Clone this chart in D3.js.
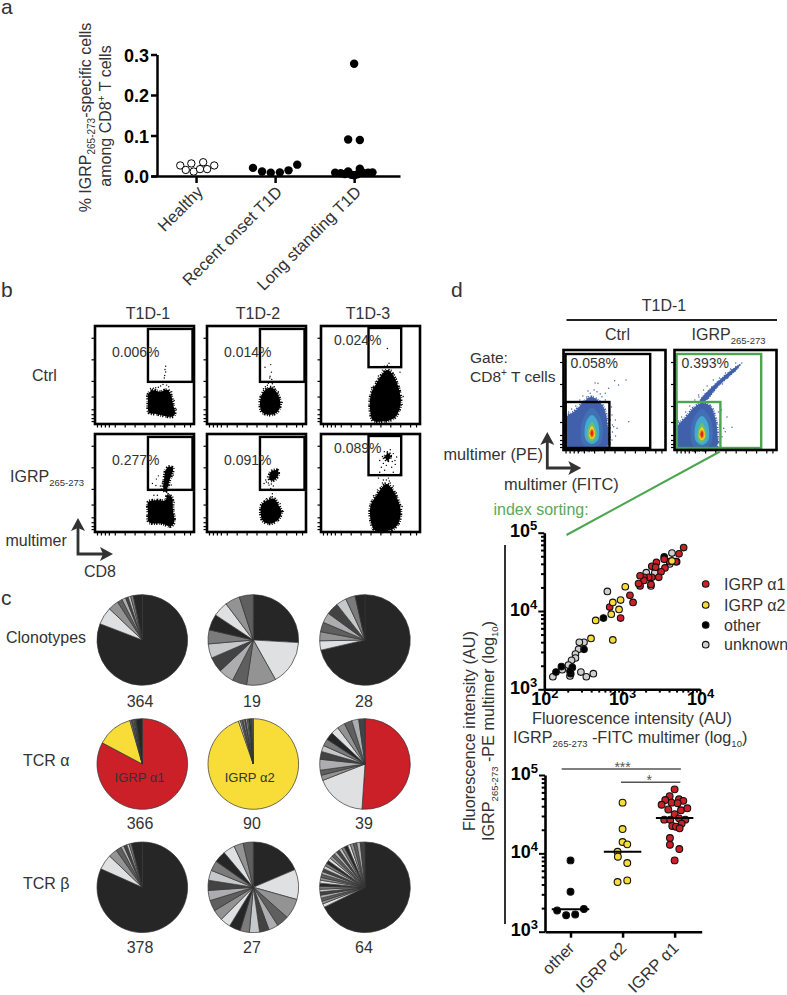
<!DOCTYPE html>
<html>
<head>
<meta charset="utf-8">
<script src="https://cdn.jsdelivr.net/npm/d3@7"></script>
<style>
  body { margin: 0; background: #fff; }
  text { font-family: "Liberation Sans", Arial, sans-serif; fill: #333; }
</style>
</head>
<body>
<svg id="fig" width="787" height="995"></svg>
<script>
// ---- panel a: % of IGRP-specific cells, [position within group, value]
const groupNames = ['Healthy', 'Recent onset T1D', 'Long standing T1D'];
const healthy = [[-0.2, 0.026], [-0.06, 0.031], [0.09, 0.034], [0.23, 0.026], [-0.13, 0.015], [-0.03, 0.011], [0.05, 0.017], [0.14, 0.017]];
const recentOnset = [[-0.28, 0.02], [-0.165, 0.011], [-0.055, 0.008], [0.06, 0.009], [0.17, 0.014], [0.28, 0.028]];
const longStanding = [[0, 0.277], [-0.076, 0.09], [0.072, 0.089], [-0.24, 0.008], [-0.17, 0.007], [-0.12, 0.005], [-0.076, 0.011], [-0.035, 0.003], [0, 0.002], [0.04, 0.004], [0.072, 0.018], [0.114, 0.008], [0.177, 0.008], [0.232, 0.009]];
const aTicks = [0, 0.1, 0.2, 0.3];

// ---- panel b: flow plots, outlines and single events in % of the plot
const colTitles = ['T1D-1', 'T1D-2', 'T1D-3'];
const ctrlPct = ['0.006%', '0.014%', '0.024%'];
const igrpPct = ['0.277%', '0.091%', '0.089%'];
const ctrl1Blob = [[53.9, 30.7], [57.9, 34.4], [66.3, 33], [73, 35], [77, 29], [78.8, 20.2], [80.8, 11.8], [78.8, 7.7], [71.4, 8], [63, 10], [54.5, 11.8], [53.5, 21.9]];
const ctrl1Dots = [[71.4, 58.9], [70.7, 55.6], [71.4, 53], [70.4, 49.5], [70, 47], [68.7, 40.4], [66.3, 38.7], [72.4, 39.7], [61.3, 37], [56, 36.4], [64, 37.5], [59, 36.5], [74.5, 38], [77.5, 33], [80, 24], [82, 15], [52.5, 29]];
const ctrl2Blob = [[54.9, 28.6], [57.6, 33.4], [64.4, 37.4], [69.5, 33.7], [72.9, 27], [74.2, 20.2], [71.2, 12.5], [64.4, 9.4], [55.9, 11.8], [53.5, 20]];
const ctrl2Dots = [[64.4, 60.6], [58.6, 57.9], [65.1, 52.9], [63.7, 48.8], [63.4, 47], [65.4, 45.5], [62, 41.5], [66, 41], [59, 38], [68, 38], [61, 39.5], [72, 33], [76, 22], [57, 36]];
const ctrl3Blob = [[50.2, 29.3], [57, 43], [62, 51], [67, 55], [72, 51], [77, 41], [80.5, 27], [79.8, 17], [74.7, 6.7], [64.6, 2.7], [52.9, 3.4], [50.2, 10]];
const ctrl3Dots = [[67, 77], [68.7, 62], [79.8, 52.9], [51, 37], [64, 59], [70, 58], [73, 52], [60, 50], [83, 28], [62, 55], [65, 58], [67, 60], [71, 55], [74, 50], [76, 46], [79, 38], [55, 43], [53, 38], [58, 49], [82, 20]];
const igrp1Blob = [[53.9, 30.7], [63, 32.4], [71.4, 32.4], [73, 37.5], [77.4, 35.8], [78.8, 22], [80, 10], [76.4, 5.8], [68, 8.5], [54.5, 10], [53.5, 20.5]];
const igrp1Streak = [[71.4, 63], [74.7, 66.5], [78.8, 65], [75.4, 53], [73, 44.4], [71.4, 41], [69, 44.4], [69.7, 53]];
const igrp1Dots = [[64, 57.3], [62, 54], [58, 49.5], [61.5, 47.5], [59.5, 37.5], [63, 37.5], [66, 47], [74, 39], [73, 36], [75, 38], [72, 41], [76, 43], [68, 50], [67, 44], [77, 48], [79, 58], [80, 30]];
const igrp2Blob = [[54.9, 27.3], [61, 32.4], [67.8, 34], [72.2, 27.3], [75.3, 20.5], [71.2, 12], [62.7, 8.5], [56, 12]];
const igrp2Streak = [[64.4, 61.4], [71.2, 63], [72, 58], [67.8, 53], [63.4, 53]];
const igrp2Dots = [[59.3, 53], [57.6, 49.5], [62.7, 47.8], [64.4, 44.4], [65.4, 42.7], [66, 39], [64.4, 35.8], [61, 56.3], [60, 51], [62, 50], [65, 49], [67, 47], [60, 34], [58, 31], [74, 29], [77, 21], [66, 36]];
const igrp3Blob = [[50.2, 27.3], [56.2, 37.5], [62, 46], [66.3, 49], [71.4, 44.4], [76.4, 35.8], [80.5, 22], [78, 8.5], [69.7, 1.7], [54.5, 1.7], [50.2, 12]];
const igrp3Cluster = [[65, 78], [69, 80], [70, 75.5], [66.5, 73]];
const igrp3Dots = [[73, 80], [74.7, 73], [76.4, 76.5], [59.3, 73], [61, 66], [66, 68], [71.4, 66], [59.3, 61], [64.3, 63], [73, 61], [80, 60], [66.3, 58], [63, 53], [68, 55], [64.6, 50], [58, 55], [62, 77], [70, 84], [75, 69], [68, 72], [63, 70], [62, 50], [70, 50], [73, 47], [60, 45], [66, 53], [69, 52], [76, 40], [53, 37], [57, 43], [82, 26], [67, 82], [64, 82], [71, 78], [72, 72], [63, 75]];
const flowTicksX = [2, 6, 10, 14, 20, 30, 40, 50, 60, 70, 80, 90, 96];
const flowTicksY = [3, 6, 10, 15, 28, 44, 66, 88];

// ---- panel c: clonotype pies, slice sizes in degrees clockwise from 12 o'clock
const rowNames = ['Clonotypes', 'TCR α', 'TCR β'];
const pieCounts = [[364, 19, 28], [366, 90, 39], [378, 27, 64]];
const clono1 = [291, 22.5, 13.5, 6.4, 5, 3.4, 3.2, 3.5, 11.5];
const clono2 = [93.3, 57.4, 37.9, 18.7, 19.7, 19.7, 18.3, 18, 20.5, 19.5, 19, 18];
const clono3 = [257, 12, 11.6, 12.4, 13, 15.7, 13.3, 12.3, 12.7];
const alpha1 = [298.7, 46.3, 2, 1.5, 1.5, 1, 1, 1, 8];
const alpha2 = [340.8, 2.5, 2, 1.5, 2, 1.5, 2, 2, 2, 0.8, 0.8, 2];
const alpha3 = [184, 65, 6.8, 6.5, 14, 10, 8, 9, 10, 10, 10, 10, 9, 8];
const beta1 = [294, 19.7, 11.3, 7, 4, 4, 3, 3, 14];
const beta2 = [67, 38.7, 26, 15.7, 12.3, 12.3, 13, 12, 14.5, 13.5, 14, 14, 13, 13, 13, 13, 15, 15, 12, 13];
const beta3 = [241, 4.5, 3.5, 4, 3.8, 4, 3.5, 3.6, 4, 3.8, 3.6, 4, 3.5, 3.8, 4.2, 3.5, 4, 3.8, 3.6, 4, 3.7, 4.2, 3.5, 3.8, 4.4, 3.6, 4, 4.2, 4.5, 6];
const pieSlices = [[clono1, clono2, clono3], [alpha1, alpha2, alpha3], [beta1, beta2, beta3]];

// ---- panel d: density plots, contour outlines in % of the plot
const ctrlCloud = [[3, 33], [11.5, 39], [19.7, 48], [27, 53], [34.4, 49], [40, 41], [43, 26.7], [43, 4], [4, 2.5], [3, 16.7]];
const ctrlDots = [[31, 67], [33.8, 66.7], [50.2, 69.3], [54, 65], [61.3, 70], [44.3, 61.7], [41, 56.7], [37.7, 53.3], [32.8, 58.3], [26.2, 56.7], [23, 53.3], [47.5, 35], [50.8, 30], [49.2, 23.3], [64, 28.3], [52.5, 21.7], [47.5, 10], [46, 13.3], [46, 30], [48, 18], [45, 40], [47, 43], [41, 50], [19, 54], [16, 50], [12, 44], [8, 41], [5, 38], [24, 59], [30, 60], [36, 56], [44, 47], [46, 6], [48, 25], [51, 14], [46, 22], [42, 48]];
const igrpCloud = [[3, 24], [10.5, 32], [18.7, 42], [26.9, 47], [35, 44], [40, 32], [42, 16.7], [41, 3], [3.5, 2.5], [2.5, 13]];
const igrpStreak = [[25, 49], [40, 66], [62, 84.5], [64.5, 85.5], [61, 80.5], [43, 64], [30, 49]];
const igrpDots = [[23.6, 55], [51.5, 33], [56.4, 22.7], [48.2, 21.7], [46.6, 13.3], [49.8, 18.3], [28.5, 60], [36.7, 63.3], [45, 30], [46, 40], [20, 50], [15, 44], [11, 38], [7, 33], [4, 29], [32, 64], [38, 70], [44, 72], [50, 77], [55, 81], [47, 66], [52, 72], [60, 87], [66, 87], [24, 53], [44, 25], [43, 38], [43, 8]];
const contourTeal = [[27.9, 42], [36, 33], [38.5, 20], [36, 6], [27.9, 3], [19, 6], [17, 20], [20, 33]];
const contourBlue = [[27.9, 35], [32.8, 30], [35, 20], [33.8, 10], [27.9, 6], [22, 10], [20.7, 20], [23, 30]];
const contourGreen = [[27.9, 28.3], [31, 23.3], [32.5, 16], [30.5, 10], [27.9, 8.3], [24.6, 10], [23.3, 16], [24.6, 23.3]];
const contourYellow = [[27.9, 24], [30.5, 19.3], [30.8, 14], [27.9, 10.7], [25, 14], [25.2, 19.3]];
const contourRed = [[27.9, 20.7], [29.8, 16.7], [27.9, 12.7], [25.9, 16.7]];

// ---- panel d: index sorting, [log10 FITC, log10 PE]
const sortedAlpha1 = [[3.79, 4.81], [3.73, 4.73], [3.69, 4.63], [3.61, 4.63], [3.54, 4.66], [3.55, 4.55], [3.5, 4.5], [3.44, 4.62], [3.38, 4.57], [3.43, 4.56], [3.47, 4.43], [3.38, 4.43], [3.37, 4.34], [3.34, 4.43], [3.28, 4.43], [3.28, 4.39], [3.23, 4.45], [3.23, 4.32], [3.21, 4.35], [3.1, 4.2], [3.14, 4.11], [2.98, 3.91], [2.84, 4.05]];
const sortedAlpha2 = [[3.64, 4.64], [3.04, 4.31], [2.88, 4.11], [2.98, 4.14], [2.96, 4.02], [2.86, 3.96], [2.66, 3.88], [2.88, 3.63], [2.6, 3.65]];
const sortedOther = [[3.54, 4.69], [2.76, 3.91], [2.51, 3.51], [2.36, 3.28], [2.22, 3.29], [2.15, 3.22], [2.34, 3.2], [2.33, 3.23], [3.7, 4.63]];
const sortedUnknown = [[3.64, 4.74], [3.61, 4.6], [3.31, 4.49], [3.42, 4.49], [3.37, 4.32], [2.81, 4.25], [2.51, 3.6], [2.45, 3.6], [2.44, 3.51], [2.4, 3.45], [2.4, 3.4], [2.35, 3.37], [2.31, 3.31], [2.23, 3.25], [2.11, 3.16], [2.33, 3.17], [2.47, 3.22], [2.54, 3.16], [2.63, 3.2]];
const legendNames = ['IGRP α1', 'IGRP α2', 'other', 'unknown'];

// ---- panel d: swarm, [position within group, log10 PE]
const swarmNames = ['other', 'IGRP α2', 'IGRP α1'];
const swarmOther = [[0, 3.91], [0, 3.51], [-0.257, 3.27], [-0.084, 3.21], [0.09, 3.22], [0.257, 3.29]];
const swarmAlpha2 = [[0, 4.647], [0, 4.31], [0, 4.145], [0.09, 4.115], [-0.096, 4.02], [-0.09, 3.957], [0.09, 3.877], [-0.096, 3.634], [0.09, 3.655]];
const swarmAlpha1 = [[0, 4.817], [-0.096, 4.73], [-0.18, 4.68], [0.084, 4.69], [0.167, 4.67], [-0.25, 4.62], [-0.058, 4.647], [0.058, 4.64], [-0.122, 4.56], [0.122, 4.55], [0.244, 4.575], [0, 4.5], [-0.2, 4.43], [-0.084, 4.43], [0.084, 4.447], [0.206, 4.43], [0.135, 4.38], [-0.045, 4.35], [0.026, 4.34], [0.096, 4.32], [-0.09, 4.196], [-0.09, 4.11], [0.09, 4.055], [0, 3.91]];
const swarmMedians = [3.285, 4.02, 4.45];

// ---- colours
const RED = '#cb2027';
const YELLOW = '#f8dc38';
const GREEN = '#4ca64f';
const FLOW_BLUE = '#4060ac';
const greyCycle = ['#262626', '#dfe0e2', '#939393', '#5f5f5f', '#adadaf', '#434343', '#c7c8ca', '#7b7b7b'];
const leadColours = [[[], [], []], [[RED, YELLOW], [YELLOW], [RED]], [[], [], []]];

const svg = d3.select('#fig');

// text with sub/superscript pieces: [string, 'sub' | 'sup' | undefined]
const richText = (sel, parts, smallSize) => {
  let shift = 0;
  parts.forEach(([str, kind]) => {
    const want = kind === 'sub' ? 4 : kind === 'sup' ? -6 : 0;
    const span = sel.append('tspan').attr('dy', want - shift).text(str);
    if (kind) span.attr('font-size', smallSize);
    shift = want;
  });
  return sel;
};

const label = (x, y, str, size, anchor) => svg.append('text')
  .attr('x', x).attr('y', y)
  .attr('font-size', size)
  .attr('text-anchor', anchor || 'start')
  .text(str);

const styleAxis = (g, width) => {
  g.selectAll('.domain').attr('stroke', '#000').attr('stroke-width', width);
  g.selectAll('.tick line').attr('stroke', '#000').attr('stroke-width', width);
};

// panel letters
label(1, 14, 'a', 21);
label(1, 297, 'b', 21);
label(1, 605, 'c', 21);
label(451, 297, 'd', 21);

// ---------------- panel a
const ax = d3.scaleLinear().domain([-0.57, 2.58]).range([151, 400]);
const ay = d3.scaleLinear().domain([0, 0.3]).range([176, 54.5]);

const ayAxis = svg.append('g').attr('transform', 'translate(157,0)')
  .call(d3.axisLeft(ay).tickValues(aTicks).tickSize(6).tickSizeOuter(0).tickFormat(d3.format('.1f')));
styleAxis(ayAxis, 2.5);
ayAxis.selectAll('text').attr('font-size', 18).attr('font-weight', 'bold').style('fill', '#000').attr('dx', 1).attr('dy', '0.38em');

const axAxis = svg.append('g').attr('transform', 'translate(0,176)')
  .call(d3.axisBottom(ax).tickValues([0, 1, 2]).tickSize(7).tickSizeOuter(0).tickFormat(''));
styleAxis(axAxis, 2.5);

groupNames.forEach((name, i) => {
  svg.append('text')
    .attr('transform', `translate(${ax(i) + 8},193) rotate(-45)`)
    .attr('text-anchor', 'end')
    .attr('font-size', 16.5)
    .text(name);
});

[healthy, recentOnset, longStanding].forEach((series, i) => {
  svg.append('g').selectAll('circle').data(series).join('circle')
    .attr('cx', d => ax(i + d[0]))
    .attr('cy', d => ay(d[1]))
    .attr('r', i === 0 ? 3.7 : 4.2)
    .attr('fill', i === 0 ? '#fff' : '#000')
    .attr('stroke', '#000')
    .attr('stroke-width', i === 0 ? 1 : 0);
});

richText(svg.append('text').attr('transform', 'translate(91,117.5) rotate(-90)').attr('text-anchor', 'middle').attr('font-size', 16),
  [['% IGRP'], ['265-273', 'sub'], ['-specific cells']], 10);
richText(svg.append('text').attr('transform', 'translate(111,116) rotate(-90)').attr('text-anchor', 'middle').attr('font-size', 16),
  [['among CD8'], ['+', 'sup'], [' T cells']], 10);

// ---------------- flow plot frame shared by panels b and d
const blobLine = d3.line().curve(d3.curveCatmullRomClosed.alpha(0.5));

const flowPlot = (left, top, width, height) => {
  const x = d3.scaleLinear().domain([0, 100]).range([left, left + width]);
  const y = d3.scaleLinear().domain([0, 100]).range([top + height, top]);
  const g = svg.append('g');
  blobLine.x(d => x(d[0])).y(d => y(d[1]));
  // grain: an uneven dash on a wide outline roughens the edge of the cloud
  const blob = (points, fill, grain) => {
    const path = g.append('path').attr('d', blobLine(points)).attr('fill', fill);
    if (grain) {
      path.attr('stroke', fill).attr('stroke-width', grain)
        .attr('stroke-dasharray', '0.9 1.3 1.6 0.8 0.6 1.9 1.2 1.1');
    }
    return path;
  };
  const dots = (points, fill) => {
    g.append('g').selectAll('circle').data(points).join('circle')
      .attr('cx', d => x(d[0])).attr('cy', d => y(d[1])).attr('r', 0.7).attr('fill', fill);
  };
  const gate = (x0, x1, y0, y1, colour) => {
    g.append('rect')
      .attr('x', x(x0)).attr('y', y(y1))
      .attr('width', x(x1) - x(x0)).attr('height', y(y0) - y(y1))
      .attr('fill', 'none').attr('stroke', colour).attr('stroke-width', 2.4);
  };
  const finish = () => {
    g.append('rect')
      .attr('x', left).attr('y', top)
      .attr('width', width).attr('height', height)
      .attr('fill', 'none').attr('stroke', '#000').attr('stroke-width', 2.6);
    const xa = g.append('g').attr('transform', `translate(0,${top + height})`)
      .call(d3.axisBottom(x).tickValues(flowTicksX).tickSize(3.5).tickFormat(''));
    const ya = g.append('g').attr('transform', `translate(${left},0)`)
      .call(d3.axisLeft(y).tickValues(flowTicksY).tickSize(3.5).tickFormat(''));
    [xa, ya].forEach(a => {
      a.select('.domain').remove();
      a.selectAll('.tick line').attr('stroke', '#000').attr('stroke-width', 1.2);
    });
  };
  return { blob, dots, gate, finish };
};

// ---------------- panel b
const bLefts = [95, 207, 321];
const bWidth = 99;
const bTops = [326, 434];
const bHeight = 98;
const gates = [[53.5, 98.5, 43, 97], [53.5, 98.5, 43, 97], [48, 81, 58, 98]];
const bBlobs = [
  [[ctrl1Blob], [ctrl2Blob], [ctrl3Blob]],
  [[igrp1Blob, igrp1Streak], [igrp2Blob, igrp2Streak], [igrp3Blob, igrp3Cluster]],
];
const bDots = [[ctrl1Dots, ctrl2Dots, ctrl3Dots], [igrp1Dots, igrp2Dots, igrp3Dots]];
const pctLabels = [ctrlPct, igrpPct];
const pctX = [112, 224, 334];
const pctY = [[356.5, 356.5, 345], [464.5, 464.5, 453]];

bTops.forEach((top, r) => {
  bLefts.forEach((left, c) => {
    const plot = flowPlot(left, top, bWidth, bHeight);
    bBlobs[r][c].forEach(points => plot.blob(points, '#000', 3.2));
    plot.dots(bDots[r][c], '#000');
    plot.gate(...gates[c], '#000');
    plot.finish();
    label(pctX[c], pctY[r][c], pctLabels[r][c], 14);
  });
});

colTitles.forEach((t, i) => label([148, 258, 368][i], 319, t, 16, 'middle'));
label(32, 381, 'Ctrl', 16);
richText(label(10, 482, '', 16), [['IGRP'], ['265-273', 'sub']], 9.5);

const arrow = (x0, y0, lenUp, lenRight) => {
  const g = svg.append('g').attr('fill', '#333').attr('stroke', '#333');
  g.append('path').attr('fill', 'none').attr('stroke-width', 2.8)
    .attr('d', `M${x0},${y0 - lenUp + 6}V${y0}H${x0 + lenRight - 6}`);
  g.append('path').attr('stroke', 'none')
    .attr('d', `M${x0},${y0 - lenUp}l-7,13l7,-3l7,3z`);
  g.append('path').attr('stroke', 'none')
    .attr('d', `M${x0 + lenRight},${y0}l-13,-7l3,7l-3,7z`);
};
arrow(78, 554, 36, 35);
label(5.5, 546, 'multimer', 16);
label(84, 577, 'CD8', 16);

// ---------------- panel c
const pieX = [142.3, 253.3, 365];
const pieY = [640, 764, 887.3];
const arc = d3.arc().innerRadius(0).outerRadius(45.3);
const pieLayout = d3.pie().sort(null);

pieSlices.forEach((row, r) => {
  row.forEach((values, c) => {
    const lead = leadColours[r][c];
    const g = svg.append('g').attr('transform', `translate(${pieX[c]},${pieY[r]})`);
    g.selectAll('path').data(pieLayout(values)).join('path')
      .attr('d', arc)
      .attr('fill', d => lead[d.index] || greyCycle[d.index % greyCycle.length])
      .attr('stroke', '#333')
      .attr('stroke-width', 0.7);
    label([140, 252, 364][c], [707, 829, 953][r], pieCounts[r][c], 16, 'middle');
  });
});
label(6, 643, rowNames[0], 16);
label(23, 766, rowNames[1], 16);
label(23, 889, rowNames[2], 16);
label(139.5, 782, 'IGRP α1', 13, 'middle');
label(249.7, 782, 'IGRP α2', 13, 'middle');

// ---------------- panel d, density plots
const densityPlot = (left, cloud, extraClouds, scatter, gateColour, pct, shift) => {
  const plot = flowPlot(left, 350, 102, 100);
  plot.blob(cloud, FLOW_BLUE, 3);
  extraClouds.forEach(points => plot.blob(points, FLOW_BLUE, 1.4));
  plot.dots(scatter, FLOW_BLUE);
  const moved = points => points.map(d => [d[0] + shift, d[1] + shift]);
  plot.blob(moved(contourTeal), '#4270b5');
  plot.blob(moved(contourBlue), '#45aad0');
  plot.blob(moved(contourGreen), '#69bf6b');
  plot.blob(moved(contourYellow), '#f2d91f');
  plot.blob(moved(contourRed), '#e0261e').attr('stroke', '#f08a1e').attr('stroke-width', 1.2);
  plot.gate(2, 85, 2, 96, gateColour);
  plot.gate(2, 45, 1, 48, gateColour);
  plot.finish();
  label(left + 7, 368, pct, 14);
};
densityPlot(563.5, ctrlCloud, [], ctrlDots, '#000', '0.058%', 0);
densityPlot(674.5, igrpCloud, [igrpStreak], igrpDots, GREEN, '0.393%', -1);

label(664, 311, 'T1D-1', 16, 'middle');
svg.append('line').attr('x1', 566.5).attr('x2', 777).attr('y1', 320).attr('y2', 320).attr('stroke', '#222').attr('stroke-width', 2);
label(617.5, 340, 'Ctrl', 16, 'middle');
richText(label(691.5, 340, '', 16), [['IGRP'], ['265-273', 'sub']], 9.5);
label(470, 362.5, 'Gate:', 15.5);
richText(label(470, 382, '', 15.5), [['CD8'], ['+', 'sup'], [' T cells']], 10);
arrow(547.3, 468, 36, 34);
label(443.5, 459.5, 'multimer (PE)', 16.3);
label(504, 490, 'multimer (FITC)', 16.4);
label(493.5, 514.5, 'index sorting:', 16).style('fill', '#5aa85b');
svg.append('line').attr('x1', 720).attr('y1', 451.5).attr('x2', 566.5).attr('y2', 535).attr('stroke', GREEN).attr('stroke-width', 2);

// ---------------- panel d, log axes
const isMinor = d => Math.abs(Math.log10(d) % 1) > 1e-9;
const powerLabels = (axisG) => {
  axisG.selectAll('.tick text').each(function (d) {
    const sel = d3.select(this);
    sel.text(null);
    if (!isMinor(d)) {
      sel.append('tspan').attr('font-size', 18).text('10');
      sel.append('tspan').attr('font-size', 13).attr('dy', -7).text(Math.round(Math.log10(d)));
    }
    sel.attr('font-weight', 'bold').style('fill', '#000');
  });
  axisG.selectAll('.tick line').attr('x2', function (d) {
    const v = +d3.select(this).attr('x2');
    return v && isMinor(d) ? v * 0.55 : v;
  }).attr('y2', function (d) {
    const v = +d3.select(this).attr('y2');
    return v && isMinor(d) ? v * 0.55 : v;
  });
};

// index sorting scatter
const sx = d3.scaleLog().domain([100, 1e4]).range([544.3, 700]);
const sy = d3.scaleLog().domain([1e3, 1e5]).range([689.3, 532.7]);

const sxAxis = svg.append('g').attr('transform', 'translate(0,689.3)')
  .call(d3.axisBottom(sx).tickSize(6).tickSizeOuter(0).tickPadding(3));
styleAxis(sxAxis, 2);
sxAxis.select('.domain').attr('stroke-width', 2.6);
powerLabels(sxAxis);

const syAxis = svg.append('g').attr('transform', 'translate(544.3,0)')
  .call(d3.axisLeft(sy).tickSize(6).tickSizeOuter(0).tickPadding(1));
styleAxis(syAxis, 2);
syAxis.select('.domain').attr('stroke-width', 2.6);
powerLabels(syAxis);
syAxis.selectAll('.tick text').attr('dy', '0.42em');

const sortPoints = (series, fill) => {
  svg.append('g').selectAll('circle').data(series).join('circle')
    .attr('cx', d => sx(10 ** d[0]))
    .attr('cy', d => sy(10 ** d[1]))
    .attr('r', 3.3)
    .attr('fill', fill)
    .attr('stroke', '#111')
    .attr('stroke-width', 1.1);
};
sortPoints(sortedUnknown, '#cfcfcf');
sortPoints(sortedOther, '#000');
sortPoints(sortedAlpha1, RED);
sortPoints(sortedAlpha2, YELLOW);

const legendColours = [RED, YELLOW, '#000', '#cfcfcf'];
legendNames.forEach((name, i) => {
  const cy = [584, 605, 625, 644.7][i];
  svg.append('circle').attr('cx', 705.7).attr('cy', cy).attr('r', 3.3)
    .attr('fill', legendColours[i]).attr('stroke', '#111').attr('stroke-width', 1.1);
  label(724, cy + 5.5, name, 16);
});

label(632, 724, 'Fluorescence intensity (AU)', 16.3, 'middle');
richText(label(513, 743, '', 16.2), [['IGRP'], ['265-273', 'sub'], [' -FITC multimer (log'], ['10', 'sub'], [')']], 9.5);

svg.append('text').attr('transform', 'translate(475,731) rotate(-90)').attr('text-anchor', 'middle').attr('font-size', 16.3)
  .text('Fluorescence intensity (AU)');
richText(svg.append('text').attr('transform', 'translate(494,731) rotate(-90)').attr('text-anchor', 'middle').attr('font-size', 16.2),
  [['IGRP'], ['265-273', 'sub'], [' -PE multimer (log'], ['10', 'sub'], [')']], 9.5);
svg.append('line').attr('x1', 505).attr('x2', 505).attr('y1', 545).attr('y2', 924).attr('stroke', '#333').attr('stroke-width', 2);

// swarm
const gx = d3.scaleLinear().domain([-0.49, 2.52]).range([545, 701.7]);
const gy = d3.scaleLog().domain([1e3, 1e5]).range([931.7, 775]);

const gyAxis = svg.append('g').attr('transform', 'translate(545,0)')
  .call(d3.axisLeft(gy).tickSize(6).tickSizeOuter(0).tickPadding(1));
styleAxis(gyAxis, 2);
gyAxis.select('.domain').attr('stroke-width', 2.6);
powerLabels(gyAxis);
gyAxis.selectAll('.tick text').attr('dy', '0.42em');

const gxAxis = svg.append('g').attr('transform', 'translate(0,931.7)')
  .call(d3.axisBottom(gx).tickValues([0, 1, 2]).tickSize(6).tickSizeOuter(0).tickFormat(''));
styleAxis(gxAxis, 2.5);

swarmNames.forEach((name, i) => {
  svg.append('text')
    .attr('transform', `translate(${gx(i) + 5},949) rotate(-45)`)
    .attr('text-anchor', 'end')
    .attr('font-size', 16.5)
    .text(name);
});

[[swarmOther, '#000'], [swarmAlpha2, YELLOW], [swarmAlpha1, RED]].forEach(([series, fill], i) => {
  svg.append('g').selectAll('circle').data(series).join('circle')
    .attr('cx', d => gx(i + d[0]))
    .attr('cy', d => gy(10 ** d[1]))
    .attr('r', 3.4)
    .attr('fill', fill)
    .attr('stroke', '#111')
    .attr('stroke-width', 1.1);
  svg.append('line')
    .attr('x1', gx(i - 0.36)).attr('x2', gx(i + 0.36))
    .attr('y1', gy(10 ** swarmMedians[i])).attr('y2', gy(10 ** swarmMedians[i]))
    .attr('stroke', '#000').attr('stroke-width', 2);
});

const sigBar = (from, to, level, stars, starX) => {
  svg.append('line')
    .attr('x1', gx(from)).attr('x2', gx(to))
    .attr('y1', gy(10 ** level)).attr('y2', gy(10 ** level))
    .attr('stroke', '#555').attr('stroke-width', 1.4);
  label(gx(starX), gy(10 ** level) + 3, stars, 14, 'middle').style('fill', '#555');
};
sigBar(-0.17, 2.12, 5.077, '***', 1);
sigBar(0.97, 2.11, 4.907, '*', 1.51);
</script>
</body>
</html>
